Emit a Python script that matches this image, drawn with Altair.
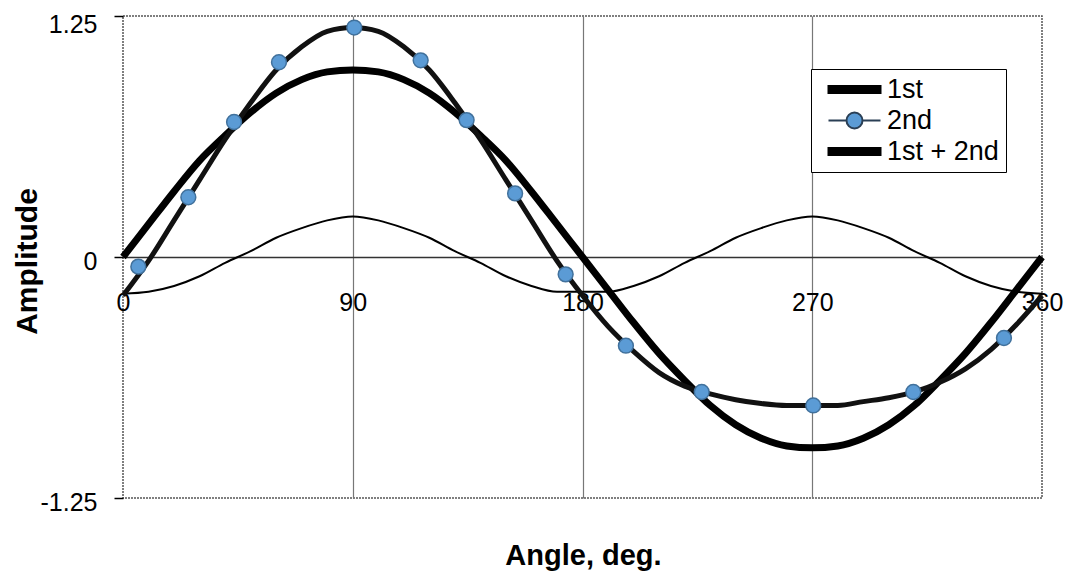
import altair as alt
import pandas as pd

# ---- data ----
angles = [0, 10, 20, 30, 40, 50, 60, 70, 80, 90, 100, 110, 120, 130, 140, 150, 160, 170, 180,
          190, 200, 210, 220, 230, 240, 250, 260, 270, 280, 290, 300, 310, 320, 330, 340, 350, 360]

first = [0.00, 0.17, 0.34, 0.50, 0.63, 0.75, 0.85, 0.92, 0.96, 0.97, 0.96, 0.92, 0.85, 0.75, 0.63, 0.50, 0.34, 0.17, 0.00,
         -0.17, -0.34, -0.50, -0.64, -0.77, -0.87, -0.94, -0.98, -0.99, -0.98, -0.94, -0.87, -0.77, -0.64, -0.50, -0.34, -0.17, 0.00]

second = [-0.19, -0.18, -0.15, -0.10, -0.03, 0.03, 0.10, 0.15, 0.19, 0.21, 0.19, 0.15, 0.10, 0.03, -0.03, -0.10, -0.15, -0.18, -0.18,
          -0.18, -0.15, -0.10, -0.03, 0.03, 0.10, 0.15, 0.19, 0.21, 0.19, 0.15, 0.10, 0.03, -0.03, -0.10, -0.15, -0.18, -0.19]

total = [-0.20, -0.02, 0.19, 0.40, 0.61, 0.80, 0.97, 1.09, 1.17, 1.19, 1.17, 1.09, 0.97, 0.80, 0.61, 0.40, 0.19, -0.02, -0.20,
         -0.36, -0.49, -0.60, -0.67, -0.71, -0.74, -0.76, -0.77, -0.77, -0.77, -0.75, -0.73, -0.70, -0.65, -0.58, -0.48, -0.35, -0.20]

marker_x = [6.0, 25.6, 43.5, 61.1, 90.6, 116.6, 134.6, 153.6, 173.4, 197.0, 226.7, 270.4, 309.6, 345.1]
marker_y = [-0.05, 0.31, 0.70, 1.01, 1.19, 1.02, 0.71, 0.33, -0.09, -0.46, -0.70, -0.77, -0.70, -0.42]

series_names = ["1st", "2nd", "1st + 2nd"]
x_ticks = [0, 90, 180, 270, 360]
y_ticks = [-1.25, 0, 1.25]

FONT = "Liberation Sans"

df_first = pd.DataFrame({"angle": angles, "amp": first})
df_second = pd.DataFrame({"angle": angles, "amp": second})
df_total = pd.DataFrame({"angle": angles, "amp": total})
df_markers = pd.DataFrame({"angle": marker_x, "amp": marker_y})
df_legend = pd.DataFrame({"series": series_names})

x_enc = alt.X(
    "angle:Q",
    scale=alt.Scale(domain=[0, 360], nice=False, zero=False),
    axis=alt.Axis(
        values=x_ticks,
        orient="bottom",
        offset=-241,
        domain=False,
        ticks=False,
        grid=True,
        gridColor={"condition": {"test": "datum.value > 0 && datum.value < 360", "value": "#777777"}, "value": "transparent"},
        gridWidth=1.2,
        labelFont=FONT,
        labelFontSize=25,
        labelColor="black",
        labelPadding=33,
        labelBaseline="top",
        labelFlush=False,
        labelOverlap=False,
        title="Angle, deg.",
        titleFont=FONT,
        titleFontSize=29,
        titleFontWeight="bold",
        titleColor="black",
        titleX=460,
        titleY=298,
        titleBaseline="middle",
        titleAlign="center",
    ),
)

y_enc = alt.Y(
    "amp:Q",
    scale=alt.Scale(domain=[-1.25, 1.25], nice=False, zero=False),
    axis=alt.Axis(
        values=y_ticks,
        labelExpr="datum.value < 0 ? '-' + format(-datum.value, '.2f') : (datum.value == 0 ? '0' : format(datum.value, '.2f'))",
        domain=False,
        ticks=True,
        tickSize=9,
        tickColor="black",
        tickWidth=1.5,
        grid=True,
        gridColor={"condition": {"test": "datum.value == 0", "value": "#333333"}, "value": "transparent"},
        gridWidth=1.5,
        labelFont=FONT,
        labelFontSize=25,
        labelColor="black",
        labelPadding=17,
        labelOffset={"condition": {"test": "datum.value > 1", "value": 8}, "value": 4},
        title="Amplitude",
        titleFont=FONT,
        titleFontSize=30,
        titleFontWeight="bold",
        titleColor="black",
        titleAngle=270,
        titleX=-96,
        titleY=245,
        titleAlign="center",
        titleBaseline="middle",
    ),
)

line_second = alt.Chart(df_second).mark_line(color="black", strokeWidth=2, interpolate="monotone").encode(x=x_enc, y=y_enc)
line_first = alt.Chart(df_first).mark_line(color="black", strokeWidth=7, interpolate="monotone").encode(x=x_enc, y=y_enc)
line_total = alt.Chart(df_total).mark_line(color="#111111", strokeWidth=5, interpolate="monotone").encode(x=x_enc, y=y_enc)
markers = alt.Chart(df_markers).mark_point(
    shape="circle", filled=True, fill="#5B9BD5", stroke="#41719C", strokeWidth=1.5, size=220, opacity=1
).encode(x=x_enc, y=y_enc)

bar_path = "M-2.6,-0.35L2.6,-0.35L2.6,0.35L-2.6,0.35Z"
mark_path = "M-2.6,0L-0.8,0M0.8,0L2.6,0M0.8,0A0.8,0.8,0,1,1,-0.8,0A0.8,0.8,0,1,1,0.8,0Z"

legend_layer = alt.Chart(df_legend).mark_point(filled=True, opacity=0).encode(
    shape=alt.Shape(
        "series:N",
        scale=alt.Scale(domain=series_names, range=[bar_path, mark_path, bar_path]),
        legend=alt.Legend(
            title=None,
            orient="none",
            legendX=688,
            legendY=53,
            fillColor="white",
            strokeColor="black",
            padding=7,
            rowPadding=3,
            symbolSize=400,
            symbolOffset=23,
            symbolOpacity=1,
            symbolStrokeWidth=2,
            labelOffset=19,
            labelFont=FONT,
            labelFontSize=27,
            labelColor="black",
        ),
    ),
    fill=alt.Fill(
        "series:N",
        scale=alt.Scale(domain=series_names, range=["black", "#5B9BD5", "black"]),
        legend=alt.Legend(title=None),
    ),
    stroke=alt.Stroke(
        "series:N",
        scale=alt.Scale(domain=series_names, range=["black", "#2a3f55", "black"]),
        legend=alt.Legend(title=None),
    ),
)

chart = alt.layer(line_second, line_first, line_total, markers, legend_layer).properties(
    width=919,
    height=482,
    autosize=alt.AutoSizeParams(type="none"),
    padding={"left": 123, "top": 16, "right": 41, "bottom": 77},
    background="white",
).configure_view(
    stroke="#555555", strokeWidth=1.5, strokeDash=[2, 1]
)

chart.save("out.html", embed_options={"renderer": "svg", "actions": False})
